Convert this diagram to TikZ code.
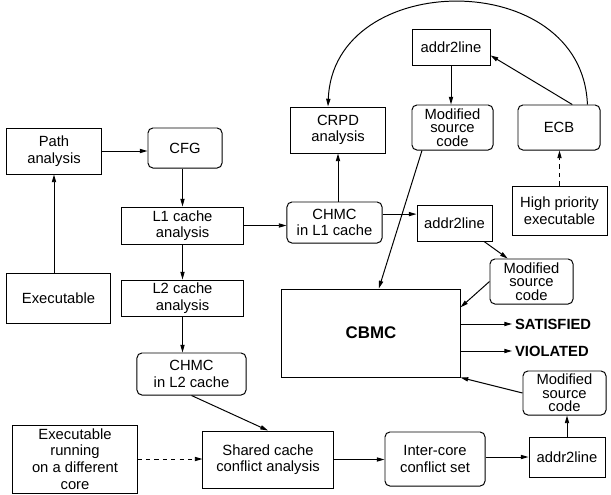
\documentclass[tikz,border=0pt]{standalone}
\usepackage{fontspec}
\setmainfont{Liberation Sans}
\usetikzlibrary{arrows.meta}

\begin{document}
\begin{tikzpicture}[x=0.025cm,y=-0.025cm,
    caja/.style={draw,line width=0.7pt,align=center,inner sep=0pt,font=\fontsize{10.5}{11.8}\selectfont},
    redonda/.style={caja,rounded corners=3.5pt},
    fuente/.style={redonda,font=\fontsize{10.5}{9.6}\selectfont},
    flecha/.style={-{Triangle[length=5.5pt,width=3pt]},line width=0.7pt},
    salida/.style={anchor=west,inner sep=2pt,font=\fontsize{10.5}{12}\selectfont\bfseries}]

  \useasboundingbox (0,0) rectangle (611,494);

  % Columna izquierda
  \node[caja,minimum width=2.35cm,minimum height=1.15cm] (path) at (54,151) {Path\\analysis};
  \node[caja,minimum width=2.575cm,minimum height=1.25cm] (exe) at (58.5,298) {Executable};
  \node[caja,minimum width=3.1cm,minimum height=1.7cm] (other) at (75,459) {Executable\\running\\on a different\\core};

  % Caches L1 y L2
  \node[redonda,minimum width=1.85cm,minimum height=1cm] (cfg) at (185,148) {CFG};
  \node[caja,minimum width=3.025cm,minimum height=0.925cm] (lone) at (182.5,225.5) {L1 cache\\analysis};
  \node[caja,minimum width=3.025cm,minimum height=0.9cm] (ltwo) at (182.5,298) {L2 cache\\analysis};
  \node[redonda,minimum width=2.725cm,minimum height=1.05cm] (chmctwo) at (191.5,374) {CHMC\\in L2 cache};
  \node[redonda,minimum width=2.375cm,minimum height=1.025cm] (chmcone) at (334.5,222.5) {CHMC\\in L1 cache};
  \node[caja,minimum width=2.35cm,minimum height=1.15cm] (crpd) at (338,130) {CRPD\\analysis};

  % Conflictos entre nucleos
  \node[caja,minimum width=3.25cm,minimum height=1.425cm] (shared) at (268,459.5) {Shared cache\\conflict analysis};
  \node[redonda,minimum width=2.5cm,minimum height=1.35cm] (inter) at (435,459) {Inter-{}core\\conflict set};
  \node[caja,minimum width=1.9cm,minimum height=1cm] (atlb) at (567,457) {addr2line};
  \node[fuente,minimum width=2.075cm,minimum height=1.1cm] (msb) at (564.5,393) {Modified\\source\\code};

  % Verificador
  \node[caja,minimum width=4.45cm,minimum height=2.2cm,font=\fontsize{12}{14}\selectfont\bfseries] (cbmc) at (371,333) {CBMC};
  \node[salida] (sat) at (512,324) {SATISFIED};
  \node[salida] (vio) at (512,351) {VIOLATED};

  % Parte derecha
  \node[caja,minimum width=1.875cm,minimum height=0.9cm] (atlm) at (454.5,223) {addr2line};
  \node[fuente,minimum width=2.075cm,minimum height=1.125cm] (msm) at (531.5,281.5) {Modified\\source\\code};
  \node[caja,minimum width=1.95cm,minimum height=0.9cm] (atlt) at (451,47) {addr2line};
  \node[fuente,minimum width=2.025cm,minimum height=1.125cm] (mst) at (452.5,127.5) {Modified\\source\\code};
  \node[redonda,minimum width=2.05cm,minimum height=1.125cm] (ecb) at (559,127.5) {ECB};
  \node[caja,minimum width=2.375cm,minimum height=1.225cm] (high) at (559.5,210.5) {High priority\\executable};

  % Flechas
  \draw[flecha] (exe.north -| path.south) -- (path.south);
  \draw[flecha] (path.east) -- (path.east -| cfg.west);
  \draw[flecha] (cfg.south -| lone.north) -- (lone.north);
  \draw[flecha] (lone.south) -- (ltwo.north);
  \draw[flecha] (ltwo.south) -- (ltwo.south |- chmctwo.north);
  \draw[flecha] (chmctwo.south) -- (shared.north);
  \draw[flecha,dashed] (other.east) -- (other.east -| shared.west);
  \draw[flecha] (shared.east) -- (shared.east -| inter.west);
  \draw[flecha] (inter.east |- atlb) -- (atlb.west);
  \draw[flecha] (atlb.north) -- (atlb.north |- msb.south);
  \draw[flecha] (msb.west) -- (cbmc.south east);
  \draw[flecha] (lone.east) -- (lone.east -| chmcone.west);
  \draw[flecha] (chmcone.north -| crpd.south) -- (crpd.south);
  \draw[flecha] ([yshift=0.21cm]chmcone.east) -- ([yshift=0.21cm]chmcone.east -| atlm.west);
  \draw[flecha] (atlm.-32) -- (msm.136);
  \draw[flecha] (msm.west) -- (cbmc.16);
  \draw[flecha] (mst.217) -- (cbmc.80);
  \draw[flecha] (atlt.south) -- (atlt.south |- mst.north);
  \draw[flecha] (ecb.60) -- (atlt.-12);
  \draw[flecha,dashed] (high.north) -- (high.north |- ecb.south);
  \draw[flecha] (ecb.39) .. controls +(-5,-138) and +(5,-138) .. (crpd.113);
  \draw[flecha] (cbmc.east |- sat) -- (sat.west);
  \draw[flecha] (cbmc.east |- vio) -- (vio.west);
\end{tikzpicture}
\end{document}
